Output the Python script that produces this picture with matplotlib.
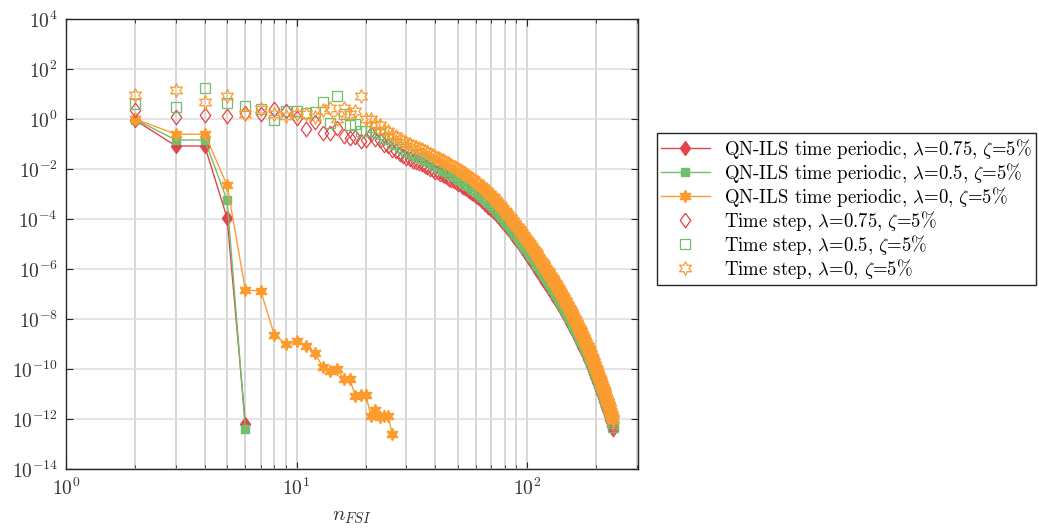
import numpy as np
import matplotlib
matplotlib.use('Agg')
import matplotlib.pyplot as plt
from matplotlib.lines import Line2D

plt.rcParams['font.family'] = ['cmr10', 'DejaVu Serif']
plt.rcParams['mathtext.fontset'] = 'cm'
plt.rcParams['axes.formatter.use_mathtext'] = True

# QN-ILS time periodic (log10 of residual)
n_qn = [2, 3, 4, 5, 6]
qn_red_log = [-0.05, -1.08, -1.08, -3.96, -12.2]
qn_green_log = [-0.02, -0.84, -0.84, -3.25, -12.4]
n_qn_orange = list(range(2, 27))
qn_orange_log = [0.0, -0.61, -0.61, -2.65, -6.84, -6.88, -8.62, -9.0, -8.88, -9.09,
                 -9.36, -9.92, -10.09, -9.99, -10.39, -10.41, -11.06, -11.03, -11.05,
                 -11.86, -11.62, -11.93, -11.86, -11.88, -12.6]

# Time step series, n = 2 .. 236 (log10 of residual)
n_ts = list(range(2, 237))
ts_red_log = [
    0.37, 0.10, 0.15, 0.12, 0.25, 0.22, 0.39, 0.32, 0.03, -0.41, -0.10, -0.55, -0.55, -0.35, -0.68, -0.75, -0.72, -0.88, -0.85,
    -0.60, -0.78, -0.85, -1.02, -1.08, -1.22, -1.28, -1.40, -1.46, -1.56,
    -1.60, -1.67, -1.71, -1.77, -1.81, -1.88, -1.92, -1.99, -2.03, -2.10,
    -2.11, -2.18, -2.22, -2.28, -2.31, -2.38, -2.42, -2.48, -2.51, -2.58,
    -2.61, -2.67, -2.71, -2.77, -2.80, -2.87, -2.91, -2.97, -3.01, -3.07,
    -3.10, -3.17, -3.21, -3.28, -3.32, -3.39, -3.43, -3.50, -3.54, -3.61,
    -3.65, -3.72, -3.77, -3.85, -3.89, -3.97, -4.01, -4.09, -4.13, -4.21,
    -4.25, -4.33, -4.37, -4.45, -4.49, -4.57, -4.61, -4.69, -4.73, -4.81,
    -4.85, -4.93, -4.97, -5.05, -5.09, -5.17, -5.21, -5.29, -5.33, -5.41,
    -5.44, -5.52, -5.55, -5.63, -5.66, -5.74, -5.77, -5.85, -5.88, -5.96,
    -5.99, -6.07, -6.10, -6.18, -6.21, -6.29, -6.32, -6.40, -6.43, -6.51,
    -6.53, -6.60, -6.63, -6.70, -6.73, -6.80, -6.82, -6.89, -6.92, -6.99,
    -7.01, -7.08, -7.11, -7.18, -7.21, -7.28, -7.30, -7.37, -7.40, -7.47,
    -7.49, -7.56, -7.59, -7.66, -7.69, -7.76, -7.78, -7.85, -7.88, -7.95,
    -7.97, -8.04, -8.07, -8.14, -8.17, -8.24, -8.26, -8.33, -8.36, -8.43,
    -8.45, -8.52, -8.55, -8.62, -8.65, -8.72, -8.74, -8.81, -8.84, -8.91,
    -8.93, -9.00, -9.03, -9.10, -9.13, -9.20, -9.22, -9.29, -9.32, -9.39,
    -9.41, -9.48, -9.51, -9.58, -9.61, -9.68, -9.70, -9.77, -9.80, -9.87,
    -9.90, -9.97, -10.01, -10.08, -10.12, -10.19, -10.23, -10.30, -10.34, -10.41,
    -10.43, -10.50, -10.54, -10.61, -10.65, -10.72, -10.76, -10.83, -10.87, -10.94,
    -10.97, -11.04, -11.08, -11.15, -11.19, -11.26, -11.30, -11.37, -11.41, -11.48,
    -11.51, -11.58, -11.62, -11.69, -11.73, -11.80, -11.84, -11.91, -11.95, -12.02,
    -12.06, -12.13, -12.19, -12.26, -12.32, -12.40]
ts_green_log = [
    0.60, 0.50, 1.26, 0.65, 0.52, 0.39, -0.05, 0.32, 0.32, 0.25, 0.30, 0.70, -0.15, 0.92, 0.19, -0.25, -0.20, -0.48, -0.48,
    -0.32, -0.50, -0.58, -0.75, -0.81, -0.95, -1.01, -1.13, -1.19, -1.29,
    -1.33, -1.40, -1.44, -1.50, -1.54, -1.61, -1.65, -1.72, -1.76, -1.83,
    -1.87, -1.94, -1.98, -2.04, -2.07, -2.14, -2.18, -2.24, -2.27, -2.34,
    -2.38, -2.44, -2.49, -2.54, -2.58, -2.64, -2.69, -2.74, -2.79, -2.84,
    -2.88, -2.95, -3.00, -3.06, -3.11, -3.17, -3.22, -3.28, -3.33, -3.39,
    -3.43, -3.50, -3.55, -3.62, -3.67, -3.74, -3.79, -3.86, -3.91, -3.98,
    -4.02, -4.10, -4.14, -4.22, -4.26, -4.34, -4.38, -4.46, -4.50, -4.58,
    -4.62, -4.70, -4.74, -4.82, -4.86, -4.94, -4.98, -5.06, -5.10, -5.17,
    -5.20, -5.28, -5.31, -5.39, -5.42, -5.50, -5.53, -5.61, -5.64, -5.71,
    -5.74, -5.82, -5.85, -5.93, -5.96, -6.04, -6.07, -6.14, -6.17, -6.25,
    -6.28, -6.35, -6.38, -6.45, -6.48, -6.55, -6.58, -6.65, -6.68, -6.75,
    -6.78, -6.85, -6.88, -6.95, -6.98, -7.05, -7.08, -7.15, -7.18, -7.25,
    -7.28, -7.35, -7.37, -7.44, -7.47, -7.54, -7.57, -7.64, -7.67, -7.73,
    -7.76, -7.83, -7.86, -7.93, -7.95, -8.02, -8.05, -8.12, -8.15, -8.22,
    -8.25, -8.31, -8.34, -8.41, -8.44, -8.50, -8.53, -8.60, -8.63, -8.70,
    -8.73, -8.79, -8.82, -8.89, -8.92, -8.98, -9.01, -9.08, -9.11, -9.18,
    -9.21, -9.27, -9.30, -9.37, -9.40, -9.46, -9.49, -9.56, -9.59, -9.66,
    -9.70, -9.76, -9.80, -9.87, -9.91, -9.97, -10.01, -10.08, -10.12, -10.19,
    -10.23, -10.29, -10.33, -10.40, -10.44, -10.50, -10.54, -10.61, -10.65, -10.72,
    -10.76, -10.82, -10.86, -10.93, -10.97, -11.03, -11.07, -11.14, -11.18, -11.25,
    -11.29, -11.35, -11.39, -11.46, -11.50, -11.57, -11.61, -11.68, -11.72, -11.79,
    -11.85, -11.93, -12.00, -12.08, -12.17, -12.30]
ts_orange_log = [
    0.95, 1.15, 0.69, 0.92, 0.20, 0.39, 0.19, 0.12, 0.19, 0.20, 0.08, 0.35, 0.43, -0.01, 0.45, 0.19, 0.32, 0.92, -0.01,
    0.02, -0.18, -0.25, -0.42, -0.48, -0.62, -0.68, -0.80, -0.86, -0.96,
    -1.00, -1.07, -1.11, -1.17, -1.21, -1.28, -1.32, -1.39, -1.43, -1.50,
    -1.54, -1.61, -1.65, -1.71, -1.74, -1.81, -1.85, -1.91, -1.94, -2.01,
    -2.05, -2.11, -2.15, -2.21, -2.24, -2.31, -2.35, -2.41, -2.45, -2.51,
    -2.55, -2.62, -2.66, -2.73, -2.77, -2.84, -2.88, -2.95, -2.99, -3.06,
    -3.10, -3.17, -3.22, -3.30, -3.34, -3.42, -3.46, -3.54, -3.58, -3.66,
    -3.70, -3.78, -3.82, -3.90, -3.94, -4.02, -4.06, -4.14, -4.18, -4.26,
    -4.30, -4.38, -4.42, -4.50, -4.54, -4.62, -4.66, -4.74, -4.78, -4.86,
    -4.89, -4.97, -5.00, -5.08, -5.11, -5.19, -5.22, -5.30, -5.33, -5.41,
    -5.44, -5.52, -5.55, -5.63, -5.66, -5.74, -5.77, -5.85, -5.88, -5.96,
    -5.99, -6.06, -6.09, -6.16, -6.19, -6.26, -6.29, -6.36, -6.39, -6.46,
    -6.49, -6.56, -6.59, -6.66, -6.69, -6.76, -6.79, -6.86, -6.89, -6.96,
    -6.99, -7.06, -7.09, -7.16, -7.19, -7.26, -7.29, -7.36, -7.39, -7.46,
    -7.49, -7.56, -7.59, -7.66, -7.69, -7.76, -7.79, -7.86, -7.89, -7.96,
    -7.99, -8.06, -8.09, -8.16, -8.19, -8.26, -8.29, -8.36, -8.39, -8.46,
    -8.49, -8.56, -8.59, -8.66, -8.69, -8.76, -8.79, -8.86, -8.89, -8.96,
    -8.99, -9.06, -9.09, -9.16, -9.19, -9.26, -9.29, -9.36, -9.39, -9.46,
    -9.50, -9.57, -9.61, -9.68, -9.72, -9.79, -9.83, -9.90, -9.94, -10.01,
    -10.05, -10.12, -10.16, -10.23, -10.27, -10.34, -10.38, -10.45, -10.49, -10.56,
    -10.60, -10.67, -10.71, -10.78, -10.82, -10.89, -10.93, -11.00, -11.04, -11.11,
    -11.15, -11.22, -11.26, -11.33, -11.37, -11.44, -11.48, -11.55, -11.59, -11.66,
    -11.71, -11.78, -11.84, -11.91, -11.97, -12.05]

labels = [r'QN-ILS time periodic, $\lambda$=0.75, $\zeta$=5%',
          r'QN-ILS time periodic, $\lambda$=0.5, $\zeta$=5%',
          r'QN-ILS time periodic, $\lambda$=0, $\zeta$=5%',
          r'Time step, $\lambda$=0.75, $\zeta$=5%',
          r'Time step, $\lambda$=0.5, $\zeta$=5%',
          r'Time step, $\lambda$=0, $\zeta$=5%']

red = '#e4434b'
green = '#6fbf6d'
orange = '#fe9b2f'
star = (6, 1, 0)
# diamond a bit wider than matplotlib's thin diamond
diamond = [(0, 1), (0.72, 0), (0, -1), (-0.72, 0), (0, 1)]

fig = plt.figure(figsize=(10.39, 5.29), dpi=100)
ax = fig.add_axes([66 / 1039, 1 - 469 / 529, 572 / 1039, 450 / 529])

ax.plot(n_qn, 10 ** np.array(qn_red_log), color=red, lw=1, marker=diamond, ms=10)
ax.plot(n_qn, 10 ** np.array(qn_green_log), color=green, lw=1, marker='s', ms=6)
ax.plot(n_qn_orange, 10 ** np.array(qn_orange_log), color=orange, lw=1, marker=star, ms=9)
ax.plot(n_ts, 10 ** np.array(ts_red_log), ls='none', marker=diamond, ms=10.5, mfc='none', mec=red, mew=0.9)
ax.plot(n_ts, 10 ** np.array(ts_green_log), ls='none', marker='s', ms=7, mfc='none', mec=green, mew=0.9)
ax.plot(n_ts, 10 ** np.array(ts_orange_log), ls='none', marker=star, ms=10, mfc='none', mec=orange, mew=0.9)

ax.set_xscale('log')
ax.set_yscale('log')
ax.set_xlim(1, 303)
ax.set_ylim(1e-14, 1e4)
ax.set_xticks([1, 10, 100])
ax.set_xticklabels([r'$10^{0}$', r'$10^{1}$', r'$10^{2}$'])
ax.set_xticks([2, 3, 4, 5, 6, 7, 8, 9, 20, 30, 40, 50, 60, 70, 80, 90, 200, 300], minor=True)
ax.xaxis.set_minor_formatter(plt.NullFormatter())
yt = [10.0 ** k for k in range(-14, 5, 2)]
ax.set_yticks(yt)
ax.set_yticklabels([r'$10^{%d}$' % k for k in range(-14, 5, 2)])
ax.yaxis.set_minor_locator(plt.NullLocator())

ax.grid(True, axis='x', which='both', color='#cbcbcb', lw=1.1)
ax.grid(True, axis='y', which='major', color='#dedede', lw=1.1)
ax.set_axisbelow(True)
for s in ax.spines.values():
    s.set_color('#262626')
    s.set_linewidth(1.0)
ax.tick_params(which='both', direction='in', top=True, right=True, colors='#262626',
               labelcolor='#333333', labelsize=14, pad=6)
ax.tick_params(which='major', length=5)
ax.tick_params(which='minor', length=3)
ax.set_xlabel(r'$n_{FSI}$', fontsize=15, color='#333333', labelpad=7)

handles = [Line2D([], [], color=red, lw=1, marker=diamond, ms=10),
           Line2D([], [], color=green, lw=1, marker='s', ms=6),
           Line2D([], [], color=orange, lw=1, marker=star, ms=9),
           Line2D([], [], ls='none', marker=diamond, ms=10.5, mfc='none', mec=red, mew=0.9),
           Line2D([], [], ls='none', marker='s', ms=7, mfc='none', mec=green, mew=0.9),
           Line2D([], [], ls='none', marker=star, ms=10, mfc='none', mec=orange, mew=0.9)]
leg = fig.legend(handles, labels, loc='upper left', bbox_to_anchor=(657 / 1039, 1 - 133 / 529),
                 bbox_transform=fig.transFigure, prop={'size': 13.5}, frameon=True, fancybox=False,
                 framealpha=1, edgecolor='#262626', handlelength=2.6, handletextpad=0.8,
                 labelspacing=0.0, borderpad=0.2, borderaxespad=0)
leg.get_frame().set_linewidth(1.0)

fig.savefig('out.png', dpi=100)
